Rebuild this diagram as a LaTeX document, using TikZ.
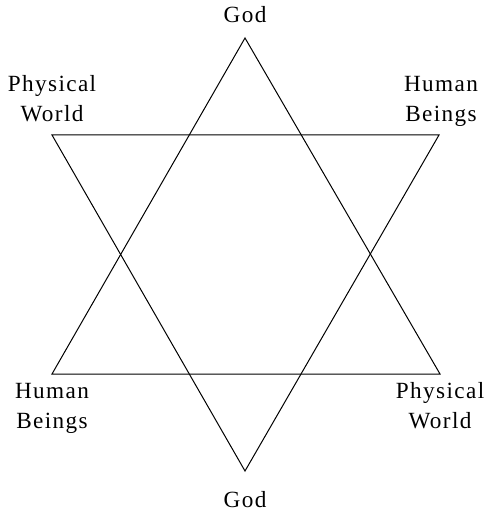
\documentclass[tikz,border=0pt]{standalone}
\usepackage{fontspec}
\setmainfont{Liberation Serif}[LetterSpace=6]
\tikzset{
  label/.style={align=center, inner sep=0pt, anchor=base,
    font=\fontsize{11.6}{15}\selectfont},
  edge/.style={line width=0.5pt, line join=miter}
}
\begin{document}
\begin{tikzpicture}[x=0.5pt, y=-0.5pt]
  \useasboundingbox (0,0) rectangle (485,512);
  \coordinate (top) at (245,38);
  \coordinate (bot) at (245,471);
  \coordinate (ul) at (52,135);
  \coordinate (ur) at (439,135);
  \coordinate (ll) at (52,374);
  \coordinate (lr) at (440,374);
  \draw[edge] (top) -- (ll) -- (lr) -- cycle;
  \draw[edge] (bot) -- (ul) -- (ur) -- cycle;
  \node[label] (godtop) at (245,23) {God};
  \node[label] (godbot) at (245,507) {God};
  \node[label] (physul) at (52,122) {Physical\\World};
  \node[label] (humur) at (441,122) {Human\\Beings};
  \node[label] (humll) at (52,428) {Human\\Beings};
  \node[label] (physlr) at (440,428) {Physical\\World};
\end{tikzpicture}
\end{document}
